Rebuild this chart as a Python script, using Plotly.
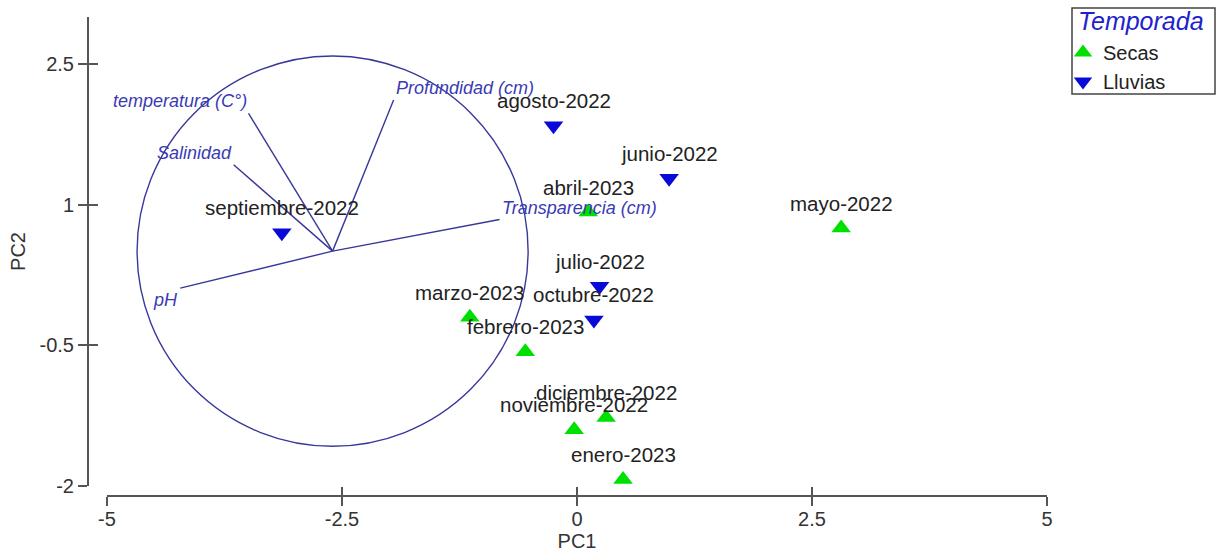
import plotly.graph_objects as go

# ---- data ----
months = ["septiembre-2022", "agosto-2022", "junio-2022", "abril-2023", "mayo-2022",
          "julio-2022", "octubre-2022", "marzo-2023", "febrero-2023",
          "diciembre-2022", "noviembre-2022", "enero-2023"]
season = ["Lluvias", "Lluvias", "Lluvias", "Secas", "Secas",
          "Lluvias", "Lluvias", "Secas", "Secas",
          "Secas", "Secas", "Secas"]
pc1 = [-3.14, -0.25, 0.98, 0.12, 2.81, 0.24, 0.18, -1.14, -0.55, 0.31, -0.03, 0.49]
pc2 = [0.70, 1.84, 1.28, 0.92, 0.75, 0.13, -0.23, -0.20, -0.57, -1.27, -1.40, -1.93]

variables = ["temperatura (C°)", "Salinidad", "Profundidad (cm)", "Transparencia (cm)", "pH"]
load_x = [-0.430, -0.506, 0.312, 0.854, -0.779]
load_y = [0.706, 0.443, 0.775, 0.162, -0.190]
circle_center = (-2.60, 0.504)
circle_radius = 2.08

x_ticks = [-5, -2.5, 0, 2.5, 5]
y_ticks = [-2, -0.5, 1, 2.5]

FONT = "Arial, Liberation Sans, sans-serif"
AX = "#555555"
VEC = "#38389a"
styles = {
    "Secas": dict(symbol="triangle-up", color="#00e000"),
    "Lluvias": dict(symbol="triangle-down", color="#0a0ad8"),
}

# plot-area geometry in page pixels (body margin removed in the page)
W, H = 1218, 552
PL, PR, PT, PB = 88, 1047, 17, 496
PW, PH = PR - PL, PB - PT


def px(xp):
    return (xp - PL) / PW


def py(yp):
    return (PB - yp) / PH


fig = go.Figure()

# correlation circle
cx, cy = circle_center
fig.add_shape(type="circle", xref="x", yref="y",
              x0=cx - circle_radius, x1=cx + circle_radius,
              y0=cy - circle_radius, y1=cy + circle_radius,
              line=dict(color=VEC, width=1.4), layer="below")

# loading vectors
for name, lx, ly in zip(variables, load_x, load_y):
    ex = cx + lx * circle_radius
    ey = cy + ly * circle_radius
    fig.add_trace(go.Scatter(x=[cx, ex], y=[cy, ey], mode="lines",
                             line=dict(color=VEC, width=1.4),
                             showlegend=False, hoverinfo="skip"))
    fig.add_annotation(x=ex, y=ey, xref="x", yref="y", text=name, showarrow=False,
                       xanchor="right" if lx < 0 else "left",
                       yanchor="bottom" if ly > 0 else "top",
                       font=dict(family=FONT, size=18, color="#3a3ab4", style="italic"))

# observation points
for s in ["Secas", "Lluvias"]:
    xs = [x for x, g in zip(pc1, season) if g == s]
    ys = [y for y, g in zip(pc2, season) if g == s]
    fig.add_trace(go.Scatter(x=xs, y=ys, mode="markers", name=s,
                             marker=dict(symbol=styles[s]["symbol"], size=17,
                                         color=styles[s]["color"], line=dict(width=0)),
                             cliponaxis=False))

for m, x, y in zip(months, pc1, pc2):
    fig.add_annotation(x=x, y=y, xref="x", yref="y", text=m, showarrow=False,
                       yshift=25, font=dict(family=FONT, size=20.5, color="#222222"))

# legend frame and title
fig.add_shape(type="rect", xref="paper", yref="paper",
              x0=px(1072), x1=px(1215), y0=py(94), y1=py(8),
              line=dict(color="#444444", width=1.5), fillcolor="white", layer="below")
fig.add_annotation(xref="paper", yref="paper", x=px(1076), y=py(21),
                   xanchor="left", yanchor="middle", text="Temporada", showarrow=False,
                   font=dict(family=FONT, size=25, color="#2222cc", style="italic"))

common_axis = dict(showgrid=False, zeroline=False, linecolor=AX, linewidth=2,
                   tickcolor=AX, tickwidth=2, ticklen=9,
                   tickfont=dict(family=FONT, size=20, color="#333333"))

fig.update_layout(
    width=W, height=H,
    margin=dict(l=PL, r=W - PR, t=PT, b=H - PB, autoexpand=False),
    paper_bgcolor="white", plot_bgcolor="white",
    xaxis=dict(range=[-5, 5], domain=[px(107), 1], anchor="free", position=0,
               showline=True, ticks="outside", tickvals=x_ticks,
               ticktext=[f"{v:g}" for v in x_ticks], ticklabelstandoff=-4,
               title=dict(text="PC1", font=dict(family=FONT, size=20, color="#333333"),
                          standoff=4),
               **common_axis),
    yaxis=dict(range=[-2, 3], domain=[py(486), 1], anchor="free", position=0,
               showline=True, ticks="outside", tickvals=y_ticks,
               ticktext=[f"{v:g}" for v in y_ticks],
               title=dict(text="PC2", font=dict(family=FONT, size=20, color="#333333"),
                          standoff=8),
               **common_axis),
    xaxis2=dict(range=[-5, 5], domain=[px(107), 1], anchor="free", position=0,
                overlaying="x", matches="x", showline=False, ticks="inside",
                tickvals=x_ticks, showticklabels=False, **common_axis),
    yaxis2=dict(range=[-2, 3], domain=[py(486), 1], anchor="free", position=0,
                overlaying="y", matches="y", showline=False, ticks="inside",
                tickvals=y_ticks, showticklabels=False, **common_axis),
    legend=dict(x=px(1063), y=py(33), xanchor="left", yanchor="top",
                bgcolor="rgba(0,0,0,0)", borderwidth=0,
                font=dict(family=FONT, size=20, color="#222222"),
                itemsizing="trace", tracegroupgap=0),
    showlegend=True,
)

# dummy trace to activate the overlay axes
fig.add_trace(go.Scatter(x=[None], y=[None], xaxis="x2", yaxis="y2",
                         showlegend=False, hoverinfo="skip"))

fig.write_html("out.html", config={"displayModeBar": False},
               post_script="document.body.style.margin='0';"
                           "document.body.style.overflow='hidden';")
